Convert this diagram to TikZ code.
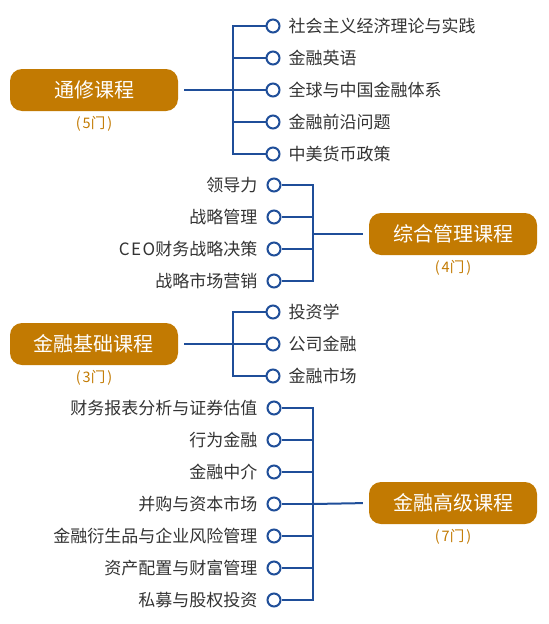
\documentclass[tikz,border=0pt]{standalone}
\usepackage{fontspec}
\setmainfont{Noto Sans CJK SC}
\usetikzlibrary{positioning}

\definecolor{courseorange}{HTML}{C27A02}
\definecolor{linkblue}{HTML}{1F4E99}
\definecolor{itemgray}{HTML}{333333}

\tikzset{
  course/.style={fill=courseorange, text=white, rounded corners=12pt,
    minimum width=168pt, minimum height=42pt, inner sep=0pt,
    font=\fontsize{20}{22}\selectfont},
  count/.style={text=courseorange, inner sep=0pt, font=\fontsize{14.5}{16}\selectfont},
  dot/.style={circle, draw=linkblue, fill=white, line width=2pt,
    minimum size=13pt, inner sep=0pt},
  item/.style={text=itemgray, inner sep=0pt, font=\fontsize{17}{19}\selectfont},
  branch/.style={draw=linkblue, line width=2pt},
}
\newcommand{\menshu}[1]{(\kern2pt#1门\kern2pt)}

\begin{document}
\begin{tikzpicture}[x=1pt, y=-1pt]
    \useasboundingbox (0,0) rectangle (549,624);

    % 通修课程
    \node[course] (g1) at (94,90) {通修课程};
    \node[count, below=5pt of g1] (n1) {\menshu{5}};
    \coordinate (j1) at (233,90);
    \foreach \i/\y/\t in {1/26/社会主义经济理论与实践, 2/58/金融英语,
        3/90/全球与中国金融体系, 4/122/金融前沿问题, 5/154/中美货币政策} {
        \node[dot] (a\i) at (273,\y) {};
        \node[item, right=8pt of a\i] (ta\i) {\t};
    }
    \draw[branch, shorten <=6pt] (g1.east) -- (j1);
    \draw[branch] (a1.west) -- (j1 |- a1) -- (j1 |- a5) -- (a5.west);
    \foreach \i in {2,3,4} \draw[branch] (j1 |- a\i) -- (a\i.west);

    % 综合管理课程
    \node[course] (g2) at (453,234) {综合管理课程};
    \node[count, below=5pt of g2] (n2) {\menshu{4}};
    \coordinate (j2) at (313,234);
    \foreach \i/\y/\t in {1/185/领导力, 2/217/战略管理,
        3/249/{{\addfontfeature{LetterSpace=9}CEO}财务战略决策}, 4/281/战略市场营销} {
        \node[dot] (b\i) at (274,\y) {};
        \node[item, left=9pt of b\i] (tb\i) {\t};
    }
    \draw[branch, shorten >=6pt] (j2) -- (g2.west);
    \draw[branch] (b1.east) -- (j2 |- b1) -- (j2 |- b4) -- (b4.east);
    \foreach \i in {2,3} \draw[branch] (j2 |- b\i) -- (b\i.east);

    % 金融基础课程
    \node[course] (g3) at (94,344) {金融基础课程};
    \node[count, below=5pt of g3] (n3) {\menshu{3}};
    \coordinate (j3) at (233,344);
    \foreach \i/\y/\t in {1/312/投资学, 2/344/公司金融, 3/376/金融市场} {
        \node[dot] (c\i) at (273,\y) {};
        \node[item, right=8pt of c\i] (tc\i) {\t};
    }
    \draw[branch, shorten <=6pt] (g3.east) -- (j3);
    \draw[branch] (c1.west) -- (j3 |- c1) -- (j3 |- c3) -- (c3.west);
    \draw[branch] (j3 |- c2) -- (c2.west);

    % 金融高级课程
    \node[course] (g4) at (453,503) {金融高级课程};
    \node[count, below=5pt of g4] (n4) {\menshu{7}};
    \coordinate (j4) at (313,504);
    \foreach \i/\y/\t in {1/408/财务报表分析与证券估值, 2/440/行为金融, 3/472/金融中介,
        4/504/并购与资本市场, 5/536/金融衍生品与企业风险管理,
        6/568/资产配置与财富管理, 7/600/私募与股权投资} {
        \node[dot] (d\i) at (274,\y) {};
        \node[item, left=9pt of d\i] (td\i) {\t};
    }
    \draw[branch, shorten >=6pt] (j4) -- (g4.west);
    \draw[branch] (d1.east) -- (j4 |- d1) -- (j4 |- d7) -- (d7.east);
    \foreach \i in {2,...,6} \draw[branch] (j4 |- d\i) -- (d\i.east);
\end{tikzpicture}
\end{document}
